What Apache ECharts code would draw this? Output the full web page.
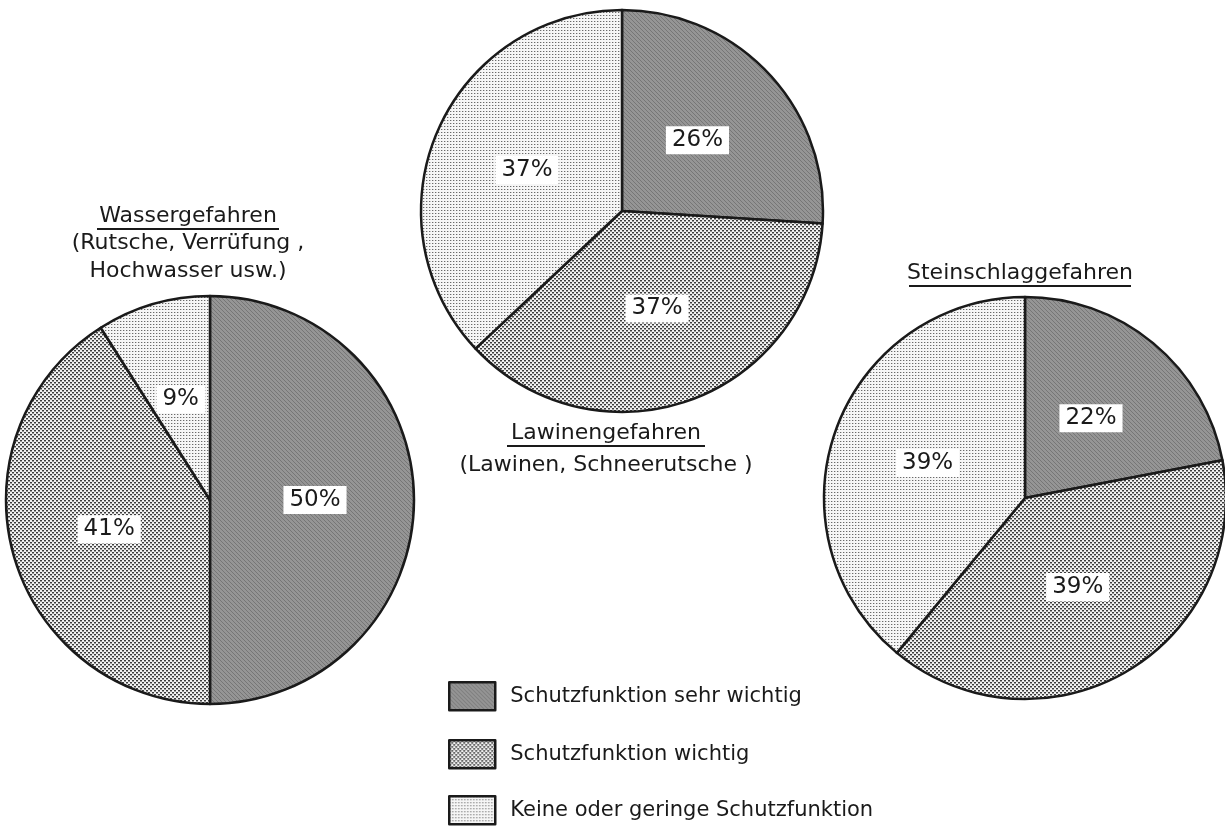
<!DOCTYPE html>
<html><head><meta charset="utf-8">
<script src="https://cdn.jsdelivr.net/npm/echarts@6/dist/echarts.min.js"></script>
<style>html,body{margin:0;padding:0;background:#fff}#c{width:1225px;height:827px}</style>
</head><body><div id="c"></div>
<script>
const categories = ['Schutzfunktion sehr wichtig', 'Schutzfunktion wichtig', 'Keine oder geringe Schutzfunktion'];
const wasserValues = [50, 41, 9];
const lawinenValues = [26, 37, 37];
const steinValues = [22, 39, 39];
const pieTitles = [
  ['Wassergefahren', '(Rutsche, Verrüfung ,', 'Hochwasser usw.)'],
  ['Lawinengefahren', '(Lawinen, Schneerutsche )'],
  ['Steinschlaggefahren']
];

function makePattern(kind) {
  const c = document.createElement('canvas');
  const g = c.getContext('2d');
  if (kind === 0) {
    c.width = 4; c.height = 4;
    g.fillStyle = '#959595'; g.fillRect(0, 0, 4, 4);
    g.fillStyle = '#767676';
    g.fillRect(0, 0, 1, 1); g.fillRect(1, 1, 1, 1); g.fillRect(2, 2, 1, 1); g.fillRect(3, 3, 1, 1);
  } else if (kind === 1) {
    c.width = 4; c.height = 4;
    g.fillStyle = '#f2f2f2'; g.fillRect(0, 0, 4, 4);
    g.fillStyle = '#3c3c3c';
    g.fillRect(0, 0, 2, 1); g.fillRect(2, 2, 2, 1);
    g.fillStyle = '#9a9a9a';
    g.fillRect(0, 1, 2, 1); g.fillRect(2, 3, 2, 1);
  } else {
    c.width = 3; c.height = 3;
    g.fillStyle = '#f6f6f6'; g.fillRect(0, 0, 3, 3);
    g.fillStyle = '#6a6a6a';
    g.fillRect(0, 0, 1, 1);
    g.fillStyle = '#c8c8c8';
    g.fillRect(1, 0, 1, 1);
  }
  return { image: c, repeat: 'repeat' };
}
const patterns = [makePattern(0), makePattern(1), makePattern(2)];

const FONT = '"DejaVu Sans", sans-serif';
const INK = '#1a1a1a';

function pieSeries(values, center, radius) {
  return {
    type: 'pie',
    center: center,
    radius: radius,
    startAngle: 90,
    clockwise: true,
    silent: true,
    animation: false,
    itemStyle: { borderColor: INK, borderWidth: 2.5 },
    label: {
      show: true,
      position: 'inside',
      formatter: '{c}%',
      fontFamily: FONT,
      fontSize: 23,
      color: INK,
      backgroundColor: '#fff',
      padding: [3, 6, 2, 6]
    },
    labelLine: { show: false },
    emphasis: { disabled: true },
    data: categories.map((n, i) => ({ name: n, value: values[i], itemStyle: { color: patterns[i] } }))
  };
}

const graphics = [];
function addTitle(lines, cx, yCenters, ulY, ulWidth) {
  lines.forEach((t, i) => {
    graphics.push({
      type: 'text',
      style: { text: t, x: cx, y: yCenters[i], align: 'center', verticalAlign: 'middle',
        font: '22px ' + FONT, fill: INK }
    });
  });
  graphics.push({
    type: 'line',
    shape: { x1: cx - ulWidth / 2, y1: ulY, x2: cx + ulWidth / 2, y2: ulY },
    style: { stroke: INK, lineWidth: 1.8 }
  });
}
addTitle(pieTitles[0], 188, [216, 243, 271], 229, 182);
addTitle(pieTitles[1], 606, [433, 465], 446, 198);
addTitle(pieTitles[2], 1020, [273], 286, 222);

const legendTops = [676, 734, 790];
const legends = categories.map((n, i) => ({
  orient: 'vertical',
  left: 443,
  top: legendTops[i],
  itemWidth: 46,
  itemHeight: 28,
  icon: 'rect',
  selectedMode: false,
  data: [n],
  textStyle: { fontFamily: FONT, fontSize: 21, color: INK, padding: [0, 0, 0, 10] },
  itemStyle: { borderColor: INK, borderWidth: 2.5 }
}));

const chart = echarts.init(document.getElementById('c'), null, { renderer: 'canvas' });
chart.setOption({
  animation: false,
  backgroundColor: '#fff',
  legend: legends,
  graphic: graphics,
  series: [
    pieSeries(wasserValues, [210, 500], 204),
    pieSeries(lawinenValues, [622, 211], 201),
    pieSeries(steinValues, [1025, 498], 201)
  ]
});
</script></body></html>
